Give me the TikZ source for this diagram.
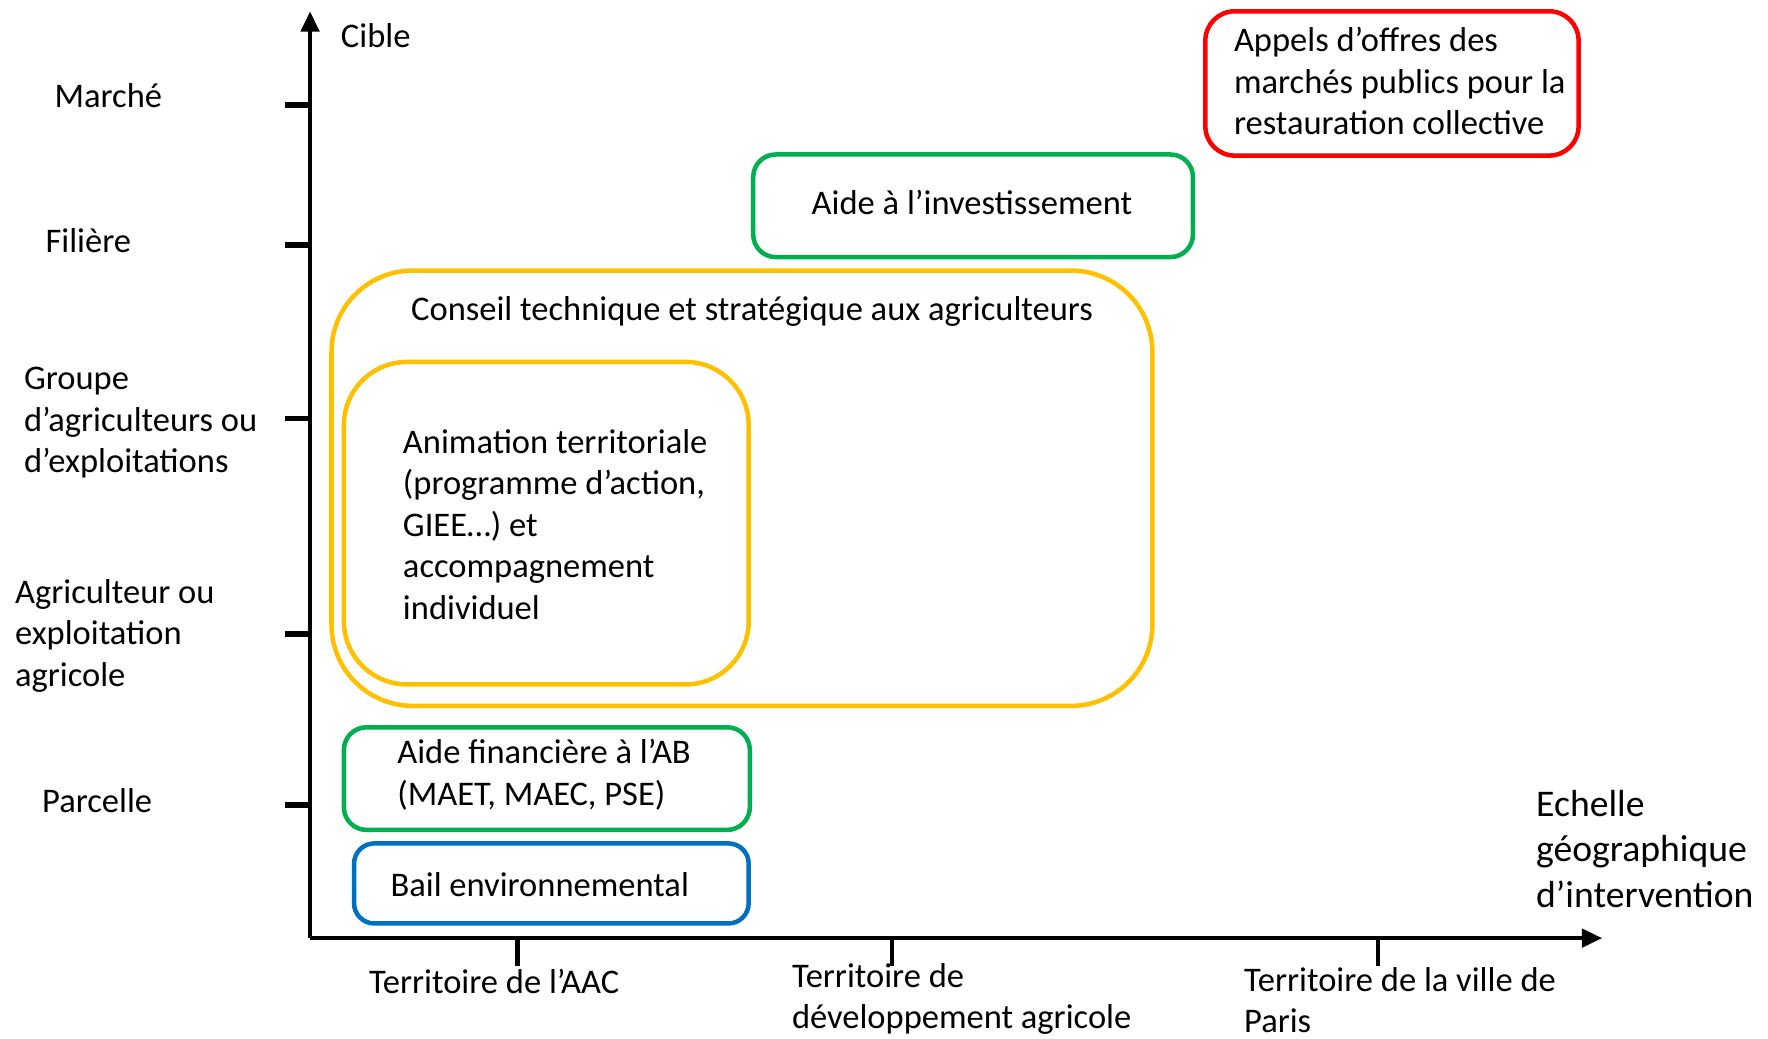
\documentclass[tikz,border=0pt]{standalone}
\usepackage{fontspec}
\setmainfont{Carlito}
\usetikzlibrary{arrows.meta}
\definecolor{cgreen}{HTML}{00B050}
\definecolor{cyellow}{HTML}{FFC000}
\definecolor{cblue}{HTML}{0070C0}
\definecolor{cred}{HTML}{FF0000}
\begin{document}
\begin{tikzpicture}[x=0.5pt,y=-0.5pt,
  txt/.style={inner sep=0pt,font=\fontsize{15.3pt}{18.4pt}\selectfont,align=left,anchor=west},
  bigtxt/.style={inner sep=0pt,font=\fontsize{16.7pt}{20.2pt}\selectfont,align=left,anchor=west},
  axis/.style={line width=2pt,-{Triangle[length=9pt,width=8pt]}},
  ytick/.style={line width=2.5pt},
  xtick/.style={line width=2pt},
  abox/.style={draw,line width=2pt,inner sep=0pt,fill=none},
]
\useasboundingbox (0,0) rectangle (1568,920.6);
% axes
\coordinate (O) at (275,832);
\coordinate (ytop) at (275,10);
\coordinate (xend) at (1421,832);
\draw[axis] (O) -- (ytop);
\draw[axis] (O) -- (xend);
% y ticks
\foreach \n/\y in {m/93,f/217,g/371,a/562,p/714}{
  \coordinate (yt\n) at (253,\y);
  \coordinate (ya\n) at (276,\y);
  \draw[ytick] (yt\n) -- (ya\n);
}
% x ticks
\foreach \n/\x in {a/459,d/791,p/1222}{
  \coordinate (xt\n) at (\x,831);
  \coordinate (xb\n) at (\x,857);
  \draw[xtick] (xt\n) -- (xb\n);
}
% axis labels
\node[txt] (cible) at (302,32) {Cible};
\node[txt] (marche) at (48,85) {Marché};
\node[txt] (filiere) at (40,213) {Filière};
\node[txt] (groupe) at (21,375) {Groupe\\d’agriculteurs ou\\d’exploitations};
\node[txt] (agri) at (13,564) {Agriculteur ou\\exploitation\\agricole};
\node[txt] (parcelle) at (37,710) {Parcelle};
\node[txt] (aac) at (327,870) {Territoire de l’AAC};
\node[txt] (dev) at (702,886) {Territoire de\\développement agricole};
\node[txt] (paris) at (1103,887) {Territoire de la ville de\\Paris};
\node[bigtxt] (echelle) at (1362,753) {Echelle\\géographique\\d’intervention};
% boxes
\node[abox,draw=cred,rounded corners=13pt,minimum width=165.5pt,minimum height=64pt] (appels) at (1234.5,74) {};
\node[txt] (appelst) at (1094,72) {Appels d’offres des\\marchés publics pour la\\restauration collective};
\node[abox,draw=cgreen,rounded corners=10pt,minimum width=195pt,minimum height=45.5pt] (invest) at (863,182.5) {};
\node[txt,anchor=center] (investt) at (862,180) {Aide à l’investissement};
\node[abox,draw=cyellow,rounded corners=36pt,minimum width=364pt,minimum height=193pt] (conseil) at (658,433) {};
\node[txt,anchor=center] (conseilt) at (667,276) {Conseil technique et stratégique aux agriculteurs};
\node[abox,draw=cyellow,rounded corners=28pt,minimum width=179.5pt,minimum height=143pt] (anim) at (484.5,464) {};
\node[txt] (animt) at (357,465) {Animation territoriale\\(programme d’action,\\GIEE…) et\\accompagnement\\individuel};
\node[abox,draw=cgreen,rounded corners=10pt,minimum width=180pt,minimum height=45.5pt] (fin) at (485,690.5) {};
\node[txt] (fint) at (352,687) {Aide financière à l’AB\\(MAET, MAEC, PSE)};
\node[abox,draw=cblue,rounded corners=9pt,minimum width=175pt,minimum height=35.5pt] (bail) at (489,783.5) {};
\node[txt] (bailt) at (346,785) {Bail environnemental};
\end{tikzpicture}
\end{document}
